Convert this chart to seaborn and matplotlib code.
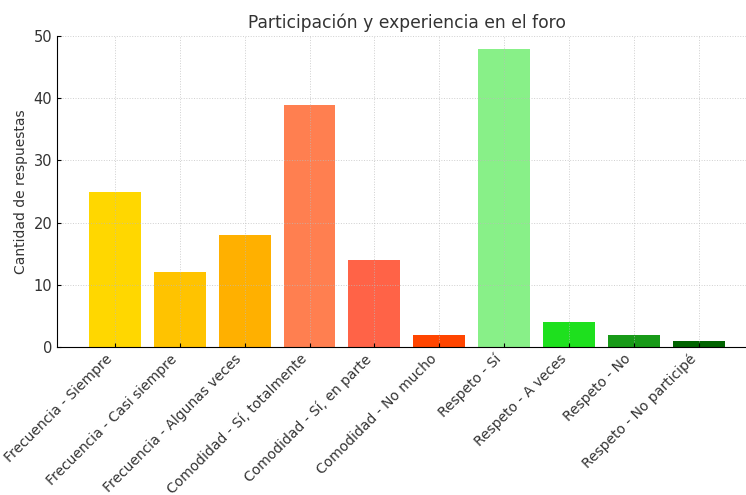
import matplotlib
matplotlib.use('Agg')
import matplotlib.pyplot as plt
import seaborn as sns
import pandas as pd

# Datos
categorias = [
    'Frecuencia - Siempre', 'Frecuencia - Casi siempre', 'Frecuencia - Algunas veces',
    'Comodidad - Sí, totalmente', 'Comodidad - Sí, en parte', 'Comodidad - No mucho',
    'Respeto - Sí', 'Respeto - A veces', 'Respeto - No', 'Respeto - No participé',
]
respuestas = [25, 12, 18, 39, 14, 2, 48, 4, 2, 1]
colores = ['#FFD700', '#FFC300', '#FFB000', '#FF7F50', '#FF6347', '#FF4500',
           '#88F088', '#1EE01E', '#189A18', '#006400']

df = pd.DataFrame({'categoria': categorias, 'respuestas': respuestas})

fig = plt.figure(figsize=(7.46, 4.95), dpi=100)
ax = fig.add_axes([0.0764, 0.299, 0.938, 0.628])

sns.barplot(x='categoria', y='respuestas', hue='categoria', data=df,
            palette=colores, legend=False, ax=ax, saturation=1)

ax.set_xlim(-0.89, 9.89)
ax.set_ylim(0, 50)
ax.set_yticks(range(0, 51, 10))

# Añadir etiquetas y título
ax.set_title('Participación y experiencia en el foro', fontsize=12.3, color='#333333')
ax.set_xlabel('')
ax.set_ylabel('Cantidad de respuestas', fontsize=10, color='#333333')
plt.setp(ax.get_xticklabels(), rotation=45, ha='right', fontsize=10, color='#333333')
plt.setp(ax.get_yticklabels(), fontsize=10.5, color='#333333')
ax.tick_params(direction='in', length=3)

ax.spines['top'].set_visible(False)
ax.spines['right'].set_visible(False)

# Cuadrícula discontinua
ax.grid(True, linestyle=':', linewidth=0.7, color='#bbbbbb', alpha=0.7)

fig.savefig('out.png', dpi=100)
